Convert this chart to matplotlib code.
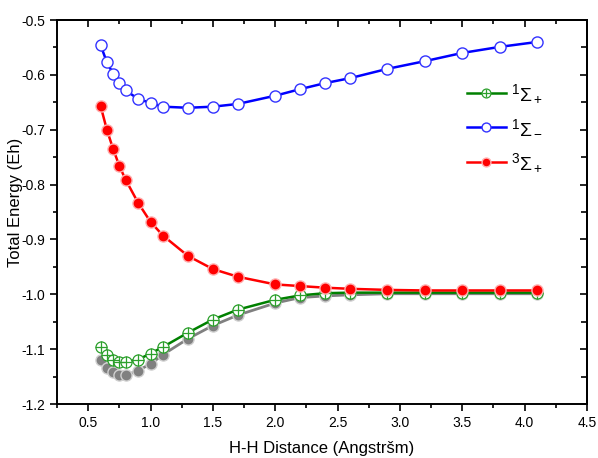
import matplotlib.pyplot as plt
from matplotlib.ticker import MultipleLocator

plt.rcParams['font.family'] = ['Liberation Sans', 'DejaVu Sans']
plt.rcParams['mathtext.fontset'] = 'custom'
plt.rcParams['mathtext.rm'] = 'Liberation Sans'
plt.rcParams['mathtext.it'] = 'Liberation Sans:italic'

x = [0.6, 0.65, 0.7, 0.75, 0.8, 0.9, 1.0, 1.1, 1.3, 1.5, 1.7, 2.0, 2.2, 2.4, 2.6, 2.9, 3.2, 3.5, 3.8, 4.1]

y_s1p = [-1.096, -1.110, -1.119, -1.123, -1.123, -1.119, -1.108, -1.096, -1.070, -1.046, -1.028,
         -1.010, -1.002, -0.998, -0.997, -0.997, -0.997, -0.997, -0.997, -0.997]
y_s1m = [-0.546, -0.577, -0.598, -0.615, -0.628, -0.644, -0.651, -0.658, -0.660, -0.658, -0.653,
         -0.638, -0.626, -0.615, -0.606, -0.589, -0.575, -0.560, -0.549, -0.540]
y_s3p = [-0.657, -0.700, -0.735, -0.766, -0.791, -0.833, -0.868, -0.893, -0.930, -0.954, -0.968,
         -0.982, -0.985, -0.988, -0.990, -0.992, -0.993, -0.993, -0.993, -0.993]
y_gray = [-1.120, -1.134, -1.142, -1.147, -1.148, -1.139, -1.127, -1.110, -1.081, -1.057, -1.038,
          -1.016, -1.006, -1.003, -1.001, -0.999, -0.999, -0.999, -0.999, -0.999]

xticks = [0.5, 1.0, 1.5, 2.0, 2.5, 3.0, 3.5, 4.0, 4.5]
yticks = [-1.2, -1.1, -1.0, -0.9, -0.8, -0.7, -0.6, -0.5]

fig = plt.figure(figsize=(5.98, 4.58), dpi=100)
ax = fig.add_axes([0.0953, 0.1179, 0.8863, 0.8384])

ax.plot(x, y_gray, color='#808080', lw=2, marker='o', ms=8,
        mfc='#808080', mec='#d0d0d0', mew=1)
g1, = ax.plot(x, y_s1p, color='#008000', lw=1.8, marker='o', ms=8,
              mfc='white', mec='#2ca02c', mew=0.9)
g2, = ax.plot(x, y_s1p, ls='none', marker='+', ms=8, mec='#2ca02c', mew=0.9)
b, = ax.plot(x, y_s1m, color='#0000ff', lw=1.8, marker='o', ms=8,
             mfc='white', mec='#3333ff', mew=1)
r, = ax.plot(x, y_s3p, color='#ff0000', lw=1.8, marker='o', ms=8,
             mfc='#ff0000', mec='#ffb0b0', mew=1)

# legend (gray curve has no entry)
ax.legend([(g1, g2), b, r], [r'$^1\Sigma_+$', r'$^1\Sigma_-$', r'$^3\Sigma_+$'],
          loc='upper left', bbox_to_anchor=(0.74, 0.884), frameon=False,
          fontsize=14, handlelength=2.0, labelspacing=0.7, markerscale=0.8,
          handletextpad=0.3)

ax.set_xlim(0.25, 4.5)
ax.set_ylim(-1.2, -0.5)
ax.set_xticks(xticks)
ax.set_xticklabels(['%.1f' % v for v in xticks])
ax.set_yticks(yticks)
ax.set_yticklabels(['%.1f' % v for v in yticks])
ax.xaxis.set_minor_locator(MultipleLocator(0.25))
ax.yaxis.set_minor_locator(MultipleLocator(0.05))

ax.tick_params(which='both', direction='out', top=False, right=False, labelsize=10, width=1.2)
ax.tick_params(which='major', length=5)
ax.tick_params(which='minor', length=3)

# Origin-style inward ticks on top and right
ax2 = ax.secondary_xaxis('top')
ax2.set_xticks(xticks)
ax2.xaxis.set_minor_locator(MultipleLocator(0.25))
ax2.tick_params(which='both', direction='in', labeltop=False, width=1.2)
ax2.tick_params(which='major', length=5)
ax2.tick_params(which='minor', length=3)
ax3 = ax.secondary_yaxis('right')
ax3.set_yticks(yticks)
ax3.yaxis.set_minor_locator(MultipleLocator(0.05))
ax3.tick_params(which='both', direction='in', labelright=False, width=1.2)
ax3.tick_params(which='major', length=5)
ax3.tick_params(which='minor', length=4)

for s in list(ax.spines.values()) + [ax2.spines['top'], ax3.spines['right']]:
    s.set_linewidth(1.4)

ax.set_xlabel('H-H Distance (Angstršm)', fontsize=12, labelpad=8)
ax.set_ylabel('Total Energy (Eh)', fontsize=12)
ax.yaxis.set_label_coords(-0.064, 0.526)

fig.savefig('out.png', dpi=100)
